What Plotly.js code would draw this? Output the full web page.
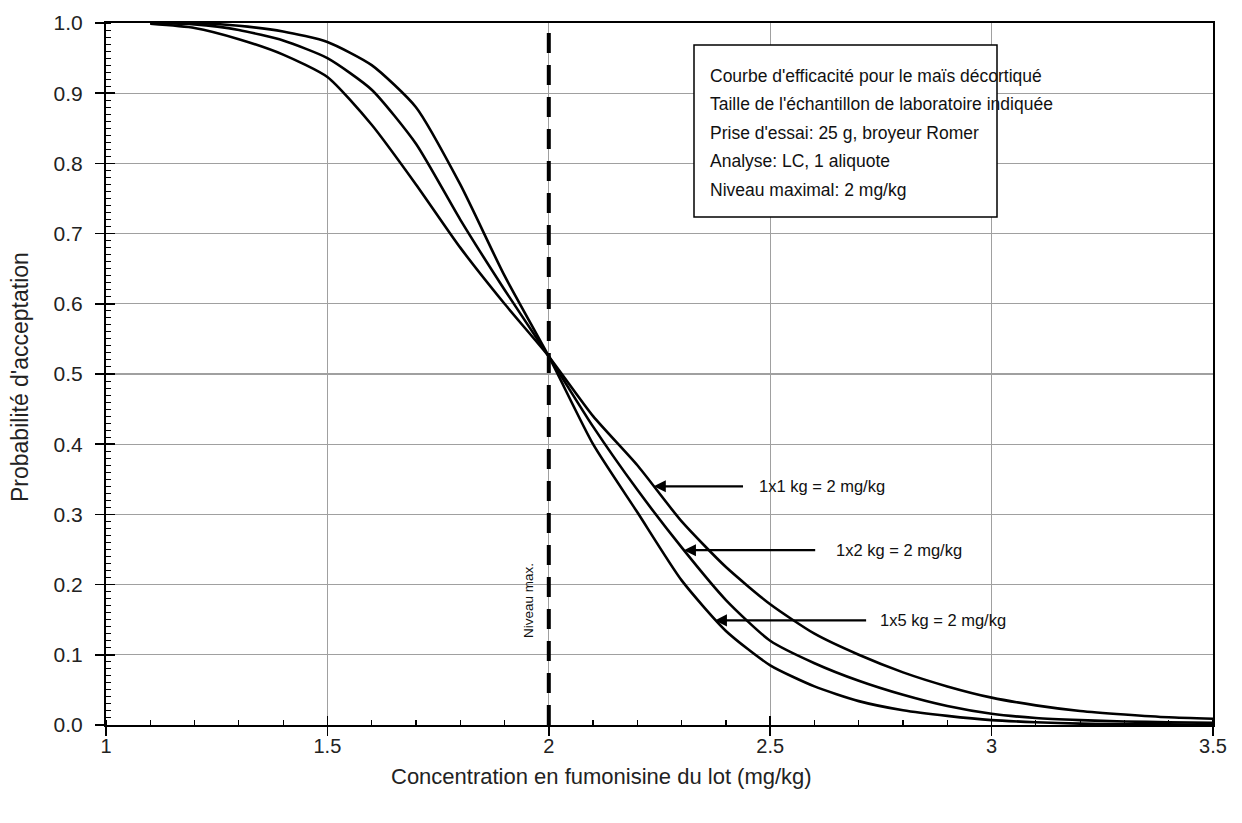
<!DOCTYPE html>
<html><head><meta charset="utf-8">
<script src="https://cdn.plot.ly/plotly-3.0.1.min.js"></script>
<style>body{margin:0;background:#fff}</style>
</head><body><div id="chart" style="width:1242px;height:823px"></div>
<script>
const concentration = [1.1,1.2,1.3,1.4,1.5,1.6,1.7,1.8,1.9,2.0,2.1,2.2,2.3,2.4,2.5,2.6,2.7,2.8,2.9,3.0,3.1,3.2,3.3,3.4,3.5];
const accept1x1 = [0.999,0.993,0.977,0.955,0.923,0.855,0.77,0.68,0.6,0.525,0.44,0.37,0.29,0.225,0.172,0.13,0.1,0.075,0.055,0.039,0.028,0.02,0.015,0.011,0.009];
const accept1x2 = [1.0,0.998,0.99,0.975,0.95,0.905,0.828,0.72,0.62,0.525,0.425,0.335,0.253,0.178,0.12,0.088,0.063,0.043,0.027,0.016,0.01,0.007,0.005,0.004,0.003];
const accept1x5 = [1.0,1.0,0.996,0.988,0.973,0.94,0.88,0.77,0.64,0.525,0.4,0.303,0.206,0.134,0.085,0.055,0.034,0.021,0.013,0.007,0.004,0.002,0.001,0.001,0.0];
const maxLevelX = [2, 2];
const maxLevelY = [0, 1];
const xTickVals = [1,1.5,2,2.5,3,3.5];
const xTickText = ['1','1.5','2','2.5','3','3.5'];
const yTickVals = [0,0.1,0.2,0.3,0.4,0.5,0.6,0.7,0.8,0.9,1.0];
const yTickText = ['0.0','0.1','0.2','0.3','0.4','0.5','0.6','0.7','0.8','0.9','1.0'];
const seriesLabels = ['1x1 kg = 2 mg/kg','1x2 kg = 2 mg/kg','1x5 kg = 2 mg/kg'];
const labelTipX = [2.237, 2.305, 2.375];
const labelTipY = [0.34, 0.249, 0.149];
const infoLines = ["Courbe d'efficacité pour le maïs décortiqué","Taille de l'échantillon de laboratoire indiquée","Prise d'essai: 25 g, broyeur Romer","Analyse: LC, 1 aliquote","Niveau maximal: 2 mg/kg"];
const xTitle = "Concentration en fumonisine du lot (mg/kg)";
const yTitle = "Probabilité d'acceptation";
const maxLabel = "Niveau max.";

const FONT = '"Liberation Sans", Arial, sans-serif';
const curveStyle = {color:'#000', width:2.6, shape:'spline', smoothing:0.6};
const traces = [
  {x:concentration, y:accept1x1, mode:'lines', line:curveStyle, hoverinfo:'skip'},
  {x:concentration, y:accept1x2, mode:'lines', line:curveStyle, hoverinfo:'skip'},
  {x:concentration, y:accept1x5, mode:'lines', line:curveStyle, hoverinfo:'skip'},
  {x:maxLevelX, y:maxLevelY, mode:'lines', line:{color:'#000', width:4, dash:'20px,12px'}, hoverinfo:'skip'},
  {x:maxLevelX, y:maxLevelY, xaxis:'x2', yaxis:'y2', mode:'lines', line:{width:0}, opacity:0, hoverinfo:'skip'}
];

const tailX = [2.442, 2.605, 2.72];
const textX = [2.47, 2.643, 2.743];
const annotations = [];
for (let i=0;i<3;i++){
  annotations.push({x:labelTipX[i], y:labelTipY[i], ax:tailX[i], ay:labelTipY[i], axref:'x', ayref:'y', xref:'x', yref:'y',
    text:'', showarrow:true, arrowhead:2, arrowsize:1.1, arrowwidth:2.2, arrowcolor:'#000', standoff:0});
  annotations.push({x:textX[i], y:labelTipY[i], xref:'x', yref:'y', text:seriesLabels[i], showarrow:false,
    xanchor:'left', yanchor:'middle', font:{family:FONT, size:16.5, color:'#111'}});
}
const lineY = [76,104,133,161,190];
infoLines.forEach((t,i)=>{
  annotations.push({x:(708-106)/1107, y:(725-lineY[i])/702, xref:'paper', yref:'paper', text:t, showarrow:false,
    xanchor:'left', yanchor:'middle', font:{family:FONT, size:17.5, color:'#111'}});
});
annotations.push({x:1.953, y:0.178, xref:'x', yref:'y', text:maxLabel, textangle:-90, showarrow:false,
  xanchor:'center', yanchor:'middle', font:{family:FONT, size:13.5, color:'#111'}});
annotations.push({x:(601-106)/1107, y:(725-777)/702, xref:'paper', yref:'paper', text:xTitle, showarrow:false,
  xanchor:'center', yanchor:'middle', font:{family:FONT, size:22, color:'#222'}});
annotations.push({x:(20-106)/1107, y:(725-377)/702, xref:'paper', yref:'paper', text:yTitle, textangle:-90, showarrow:false,
  xanchor:'center', yanchor:'middle', font:{family:FONT, size:23, color:'#222'}});

const layout = {
  width:1242, height:823,
  margin:{l:106, r:29, t:23, b:98},
  paper_bgcolor:'#fff', plot_bgcolor:'#fff',
  showlegend:false,
  font:{family:FONT, color:'#222', size:18},
  xaxis:{range:[1,3.5], tickvals:xTickVals, ticktext:xTickText, ticks:'outside', ticklen:9, tickwidth:1.5, tickcolor:'#000',
    showline:true, linecolor:'#000', linewidth:2, mirror:true, showgrid:true, gridcolor:'#a0a0a0', gridwidth:1.2, zeroline:false,
    tickfont:{family:FONT, size:20, color:'#222'}, ticklabelstandoff:-7,
    minor:{ticks:'inside', dtick:0.1, ticklen:5, tickcolor:'#000', tickwidth:1.2, showgrid:false}},
  yaxis:{range:[0,1], tickvals:yTickVals, ticktext:yTickText, ticks:'outside', ticklen:9, tickwidth:1.5, tickcolor:'#000',
    showline:true, linecolor:'#000', linewidth:2, mirror:true, showgrid:true, gridcolor:'#a0a0a0', gridwidth:1.2, zeroline:false,
    tickfont:{family:FONT, size:21, color:'#222'}, ticklabelstandoff:8,
    minor:{ticks:'inside', dtick:0.01, ticklen:5, tickcolor:'#000', tickwidth:1, showgrid:false}},
  xaxis2:{range:[1,3.5], overlaying:'x', anchor:'y', tickvals:xTickVals, ticks:'inside', ticklen:9, tickwidth:1.5, tickcolor:'#000',
    showticklabels:false, showgrid:false, zeroline:false, showline:false},
  yaxis2:{range:[0,1], overlaying:'y', anchor:'x', tickvals:yTickVals, ticks:'inside', ticklen:9, tickwidth:1.5, tickcolor:'#000',
    showticklabels:false, showgrid:false, zeroline:false, showline:false},
  shapes:[{type:'rect', xref:'paper', yref:'paper', x0:(694-106)/1107, x1:(997-106)/1107, y0:(725-217)/702, y1:(725-45)/702,
    line:{color:'#000', width:1.5}, fillcolor:'#fff', layer:'above'}],
  annotations:annotations
};
Plotly.newPlot('chart', traces, layout, {staticPlot:true});
</script>
</body></html>
